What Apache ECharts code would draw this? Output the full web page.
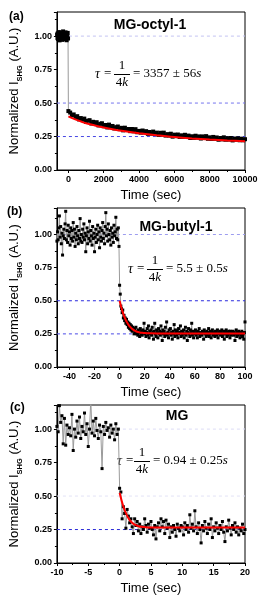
<!DOCTYPE html>
<html><head><meta charset="utf-8">
<script src="https://cdn.jsdelivr.net/npm/echarts@6/dist/echarts.min.js"></script>
<style>html,body{margin:0;padding:0;background:#fff}#c{width:264px;height:600px}</style>
</head><body><div id="c"></div>
<script>
// ---------- Panel (a): MG-octyl-1 ----------
const aPreStart = -640, aPreStep = 20;
const aPreValues = [1.012,0.985,1.021,0.978,1.005,1.030,0.992,0.968,1.018,1.001,0.980,1.026,0.995,1.010,0.972,1.015,0.990,1.035,0.983,1.004,1.020,0.976,1.008,0.993,1.028,0.987,1.011,0.969,1.017,0.998,1.024,0.982];
const aPostStart = 0, aPostStep = 100;
const aPostValues = [
0.440,0.429,0.410,0.415,0.395,0.402,0.378,0.388,0.375,0.384,
0.359,0.368,0.372,0.347,0.360,0.346,0.357,0.333,0.345,0.349,
0.327,0.336,0.318,0.339,0.320,0.329,0.310,0.320,0.325,0.305,
0.315,0.296,0.316,0.299,0.306,0.290,0.306,0.289,0.305,0.282,
0.292,0.279,0.295,0.281,0.290,0.270,0.284,0.271,0.287,0.270,
0.279,0.262,0.278,0.265,0.279,0.257,0.268,0.257,0.271,0.249,
0.264,0.253,0.265,0.247,0.259,0.247,0.263,0.249,0.257,0.239,
0.252,0.240,0.256,0.242,0.251,0.235,0.251,0.239,0.253,0.233,
0.244,0.232,0.247,0.233,0.243,0.226,0.239,0.229,0.244,0.226,
0.238,0.227,0.239,0.221,0.235,0.226,0.237,0.222,0.234,0.222,
0.230];
const aFitTime  = [0,250,500,750,1000,1500,2000,2500,3000,3500,4000,5000,6000,7000,8000,9000,10000];
const aFitValue = [0.400,0.385,0.372,0.360,0.349,0.333,0.318,0.305,0.293,0.283,0.274,0.259,0.246,0.236,0.228,0.221,0.215];
const aXLabels = [0,2000,4000,6000,8000,10000];
const aXMinor  = [1000,3000,5000,7000,9000];

// ---------- Panel (b): MG-butyl-1 ----------
const bPreStart = -50, bPreStep = 0.5;
const bPreValues = [
0.95,1.02,0.96,1.05,1.14,0.98,1.06,0.93,1.01,0.845,
0.99,1.04,0.97,1.08,1.175,0.96,1.03,0.94,1.07,0.99,
1.02,0.92,1.05,0.97,1.03,0.95,1.09,0.98,1.04,0.91,
1.01,0.96,1.06,0.99,0.93,1.03,0.97,1.12,0.95,1.00,
0.94,1.04,0.98,1.08,0.96,1.01,0.87,0.99,1.05,0.93,
1.02,0.97,1.10,0.95,1.03,0.99,0.92,1.06,0.97,1.01,
0.87,0.98,1.04,0.94,1.00,1.07,0.96,1.02,0.90,1.05,
0.98,0.95,1.03,1.09,0.97,1.01,0.93,1.06,1.165,0.99,
1.04,0.95,1.08,1.00,0.96,1.03,0.92,1.05,0.98,1.01,
0.94,1.07,0.99,1.02,1.13,0.97,1.04,0.96,1.05,0.91];
const bPostStart = 0, bPostStep = 0.5;
const bPostValues = [
0.617,0.55,0.46,0.44,0.41,0.43,0.37,0.39,0.35,0.37,
0.33,0.36,0.32,0.34,0.30,0.33,0.29,0.32,0.28,0.31,
0.27,0.30,0.28,0.25,0.29,0.26,0.30,0.25,0.27,0.24,
0.28,0.26,0.23,0.29,0.25,0.27,0.24,0.28,0.26,0.33,
0.25,
0.27,0.23,0.26,0.29,0.24,0.31,0.22,0.27,0.25,0.28,
0.24,0.30,0.26,0.21,0.27,0.33,0.25,0.23,0.28,0.26,
0.22,0.29,0.25,0.27,0.24,0.31,0.26,0.20,0.28,0.25,
0.27,0.23,0.30,0.25,0.34,0.24,0.26,0.22,0.28,0.25,
0.29,0.24,0.26,0.21,0.27,0.25,0.32,0.23,0.28,0.26,
0.24,0.27,0.22,0.29,0.25,0.26,0.31,0.23,0.27,0.24,
0.26,0.28,0.22,0.25,0.30,0.24,0.27,0.20,0.26,0.29,
0.25,0.23,0.28,0.26,0.33,0.24,0.27,0.22,0.26,0.25,
0.28,0.24,0.26,0.22,0.27,0.25,0.29,0.23,0.26,0.25,
0.24,0.27,0.26,0.21,0.28,0.25,0.26,0.23,0.27,0.24,
0.26,0.29,0.23,0.25,0.27,0.22,0.26,0.28,0.24,0.26,
0.25,0.23,0.27,0.26,0.24,0.28,0.22,0.26,0.25,0.27,
0.24,0.26,0.28,0.23,0.25,0.27,0.21,0.26,0.25,0.28,
0.23,0.26,0.24,0.27,0.25,0.22,0.27,0.24,0.26,0.25,
0.27,0.24,0.26,0.20,0.25,0.28,0.23,0.26,0.24,0.27,
0.25,0.22,0.26,0.24,0.27,0.23,0.25,0.21,0.26,0.34];
const bFitTime  = [0,1,2,3,4,5,6,7,8,9,10,12,14,16,18,20,25,30,40,100];
const bFitValue = [0.500,0.462,0.428,0.399,0.374,0.353,0.335,0.320,0.307,0.297,0.288,0.275,0.266,0.261,0.258,0.256,0.254,0.253,0.253,0.253];
const bXLabels = [-40,-20,0,20,40,60,80,100];
const bXMinor  = [-50,-30,-10,10,30,50,70,90];

// ---------- Panel (c): MG ----------
const cPreStart = -10, cPreStep = 0.2;
const cPreValues = [
1.02,0.98,1.175,1.05,1.10,0.89,1.08,0.88,1.03,0.96,
1.01,0.95,1.11,0.84,1.00,0.94,1.06,0.97,1.09,0.93,
1.02,0.98,1.12,0.96,1.04,0.87,1.00,1.22,0.97,1.06,
0.95,1.08,0.99,0.93,1.03,0.98,0.705,1.02,0.96,1.05,
0.99,1.01,0.94,1.03,0.97,1.00,0.92,1.04,0.96,1.00];
const cPostStart = 0, cPostStep = 0.2;
const cPostValues = [
0.558,0.53,0.33,0.42,0.37,0.26,0.40,0.35,0.30,0.33,
0.27,0.22,0.33,0.28,0.31,0.24,0.29,0.22,0.27,0.25,
0.33,0.28,0.23,0.29,0.26,0.31,0.25,0.21,0.28,0.18,
0.27,0.30,0.24,0.33,0.27,0.31,0.22,0.32,0.26,0.29,
0.19,0.27,0.23,0.28,0.25,0.20,0.29,0.26,0.24,0.28,
0.27,0.21,0.30,0.25,0.28,0.23,0.36,0.26,0.29,0.24,
0.39,0.27,0.22,0.30,0.25,0.15,0.28,0.24,0.31,0.26,
0.22,0.29,0.25,0.33,0.19,0.27,0.24,0.30,0.26,0.22,
0.28,0.25,0.31,0.23,0.16,0.27,0.24,0.32,0.26,0.21,
0.28,0.25,0.30,0.23,0.27,0.21,0.26,0.24,0.29,0.22,
0.25];
const cFitTime  = [0,0.25,0.5,0.75,1,1.5,2,2.5,3,3.5,4,5,6,8,20];
const cFitValue = [0.525,0.478,0.437,0.402,0.372,0.328,0.300,0.284,0.275,0.270,0.268,0.266,0.266,0.266,0.266];

const panelLabels = ['(a)','(b)','(c)'];
const panelTitles = ['MG-octyl-1','MG-butyl-1','MG'];
const tauTexts = ['= 3357 ± 56','= 5.5 ± 0.5','= 0.94 ± 0.25'];
const yTickValues = [0,0.25,0.5,0.75,1];
const refLevels = [1.0, 0.5, 0.25];

// ---------- build ----------
const SANS = '"Liberation Sans", Arial, sans-serif';
const SERIF = '"Liberation Serif", "Times New Roman", serif';
function pairs(start, step, vals){ return vals.map((v,i)=>[+(start+i*step).toFixed(4), v]); }
function zip(t, v){ return t.map((x,i)=>[x, v[i]]); }

const grids = [
  {left:52, top:12, width:193, height:158},
  {left:52, top:208, width:193, height:159},
  {left:52, top:405, width:193, height:158}
];
const yMax = [1.18, 1.2, 1.18];
const xRange = [[-650,10000],[-50,100],[-10,20]];

const lblStyle = {fontSize:9, fontWeight:'bold', color:'#000', fontFamily:SANS};
const lineBlack = {color:'#000', width:1};

function yAxis(gi){
  return {
    type:'value', gridIndex:gi, min:0, max:yMax[gi], interval:0.25,
    axisLine:{show:true, onZero:false, lineStyle:lineBlack},
    axisTick:{show:true, length:3, lineStyle:lineBlack},
    minorTick:{show:true, splitNumber:2, length:2, lineStyle:lineBlack},
    splitLine:{show:false}, minorSplitLine:{show:false},
    axisLabel:Object.assign({margin:5, showMaxLabel:false,
      formatter:v=>yTickValues.some(t=>Math.abs(t-v)<1e-6)?v.toFixed(2):''}, lblStyle),
    name:'{a|Normalized I}{s|SHG}{a| (A.U.)}',
    nameLocation:'middle', nameGap:29,
    nameTextStyle:{color:'#000', fontFamily:SANS, fontSize:13,
      rich:{a:{fontSize:13, fontFamily:SANS, color:'#000', lineHeight:18},
            s:{fontSize:7.5, fontFamily:SANS, color:'#000', fontWeight:'bold', verticalAlign:'bottom'}}}
  };
}
function xName(){
  return {name:'Time (sec)', nameLocation:'middle', nameGap:19,
    nameTextStyle:{color:'#000', fontFamily:SANS, fontSize:13}};
}
const plainNum = v => String(v);
const xAxes = [
  Object.assign({type:'value', gridIndex:0, position:'bottom', min:xRange[0][0], max:xRange[0][1],
    axisLine:{show:true, onZero:false, lineStyle:lineBlack},
    axisTick:{show:true, length:3, lineStyle:lineBlack, customValues:aXLabels},
    axisLabel:Object.assign({margin:5, customValues:aXLabels, formatter:plainNum}, lblStyle),
    splitLine:{show:false}}, xName()),
  {type:'value', gridIndex:0, position:'bottom', min:xRange[0][0], max:xRange[0][1], axisLine:{show:false, onZero:false},
    axisTick:{show:true, length:2, lineStyle:lineBlack, customValues:aXMinor},
    axisLabel:{show:false}, splitLine:{show:false}},
  Object.assign({type:'value', gridIndex:1, position:'bottom', min:xRange[1][0], max:xRange[1][1],
    axisLine:{show:true, onZero:false, lineStyle:lineBlack},
    axisTick:{show:true, length:3, lineStyle:lineBlack, customValues:bXLabels},
    axisLabel:Object.assign({margin:5, customValues:bXLabels, formatter:plainNum}, lblStyle),
    splitLine:{show:false}}, xName()),
  {type:'value', gridIndex:1, position:'bottom', min:xRange[1][0], max:xRange[1][1], axisLine:{show:false, onZero:false},
    axisTick:{show:true, length:2, lineStyle:lineBlack, customValues:bXMinor},
    axisLabel:{show:false}, splitLine:{show:false}},
  Object.assign({type:'value', gridIndex:2, position:'bottom', min:xRange[2][0], max:xRange[2][1], interval:5,
    axisLine:{show:true, onZero:false, lineStyle:lineBlack},
    axisTick:{show:true, length:3, lineStyle:lineBlack},
    minorTick:{show:true, splitNumber:2, length:2, lineStyle:lineBlack},
    axisLabel:Object.assign({margin:5, formatter:plainNum}, lblStyle),
    splitLine:{show:false}}, xName())
];
const mainX = [0,2,4];

const refColors = [
  ['#c4c4f2','#7575ee','#4848e4'],
  ['#9d9def','#2a2ade','#4a4ae6'],
  ['#dcdcf6','#e2e2f6','#2c2cd8']
];

const signalData = [
  pairs(aPreStart,aPreStep,aPreValues).concat(pairs(aPostStart,aPostStep,aPostValues)),
  pairs(bPreStart,bPreStep,bPreValues).concat(pairs(bPostStart,bPostStep,bPostValues)),
  pairs(cPreStart,cPreStep,cPreValues).concat(pairs(cPostStart,cPostStep,cPostValues))
];
const fitData = [zip(aFitTime,aFitValue), zip(bFitTime,bFitValue), zip(cFitTime,cFitValue)];
const symSize = [4,3,3];

const series = [];
for (let g=0; g<3; g++){
  refLevels.forEach((lv, k)=>{
    series.push({type:'line', xAxisIndex:mainX[g], yAxisIndex:g,
      data:[[xRange[g][0], lv],[xRange[g][1], lv]], symbol:'none', silent:true, z:1,
      lineStyle:{color:refColors[g][k], type:[3,3], width:1}});
  });
  series.push({type:'line', xAxisIndex:mainX[g], yAxisIndex:g, data:signalData[g],
    symbol:'rect', symbolSize:symSize[g], showSymbol:true, showAllSymbol:true,
    itemStyle:{color:'#000'}, lineStyle:{color:'#9a9a9a', width:1}, silent:true, z:2});
  series.push({type:'line', xAxisIndex:mainX[g], yAxisIndex:g, data:fitData[g],
    symbol:'none', smooth:0.3, lineStyle:{color:'#ff0000', width:2}, silent:true, z:3});
}

// formula graphics
const formulaPos = [
  {x:95, bar:74, fc:122},
  {x:128, bar:269, fc:155},
  {x:117, bar:461, fc:142}
];
const graphic = [];
for (let g=0; g<3; g++){
  const f = formulaPos[g];
  graphic.push({type:'text', x:f.x, y:f.bar, style:{text:'τ', font:'italic 14px '+SERIF, fill:'#000', align:'left', verticalAlign:'middle'}});
  graphic.push({type:'text', x:f.x+9, y:f.bar, style:{text:'=', font:'13px '+SERIF, fill:'#000', align:'left', verticalAlign:'middle'}});
  graphic.push({type:'text', x:f.fc, y:f.bar-8, style:{text:'1', font:'13px '+SERIF, fill:'#000', align:'center', verticalAlign:'middle'}});
  graphic.push({type:'line', shape:{x1:f.fc-8, y1:f.bar+0.5, x2:f.fc+8, y2:f.bar+0.5}, style:{stroke:'#000', lineWidth:1}});
  graphic.push({type:'text', x:f.fc, y:f.bar+9, style:{text:'{n|4}{i|k}', align:'center', verticalAlign:'middle',
    rich:{n:{font:'13px '+SERIF, fill:'#000'}, i:{font:'italic 13px '+SERIF, fill:'#000'}}}});
  graphic.push({type:'text', x:f.fc+11, y:f.bar, style:{text:'{n|'+tauTexts[g]+'}{i|s}', align:'left', verticalAlign:'middle',
    rich:{n:{font:'13px '+SERIF, fill:'#000'}, i:{font:'italic 13px '+SERIF, fill:'#000'}}}});
}
const labelPos = [[9,16.5],[7,212],[10,407.5]];
const titlePos = [[150,25],[176,227],[177,416.5]];
for (let g=0; g<3; g++){
  graphic.push({type:'text', x:labelPos[g][0], y:labelPos[g][1], style:{text:panelLabels[g], font:'bold 12px '+SANS, fill:'#000', align:'left', verticalAlign:'middle'}});
  graphic.push({type:'text', x:titlePos[g][0], y:titlePos[g][1], style:{text:panelTitles[g], font:'bold 14px '+SANS, fill:'#000', align:'center', verticalAlign:'middle'}});
}

const chart = echarts.init(document.getElementById('c'), null, {renderer:'canvas'});
chart.setOption({
  animation:false,
  backgroundColor:'#fff',
  grid:grids.map(g=>Object.assign({show:true, borderColor:'#000', borderWidth:1, backgroundColor:'transparent', containLabel:false}, g)),
  xAxis:xAxes,
  yAxis:[yAxis(0), yAxis(1), yAxis(2)],
  series:series,
  graphic:graphic
});
</script></body></html>
